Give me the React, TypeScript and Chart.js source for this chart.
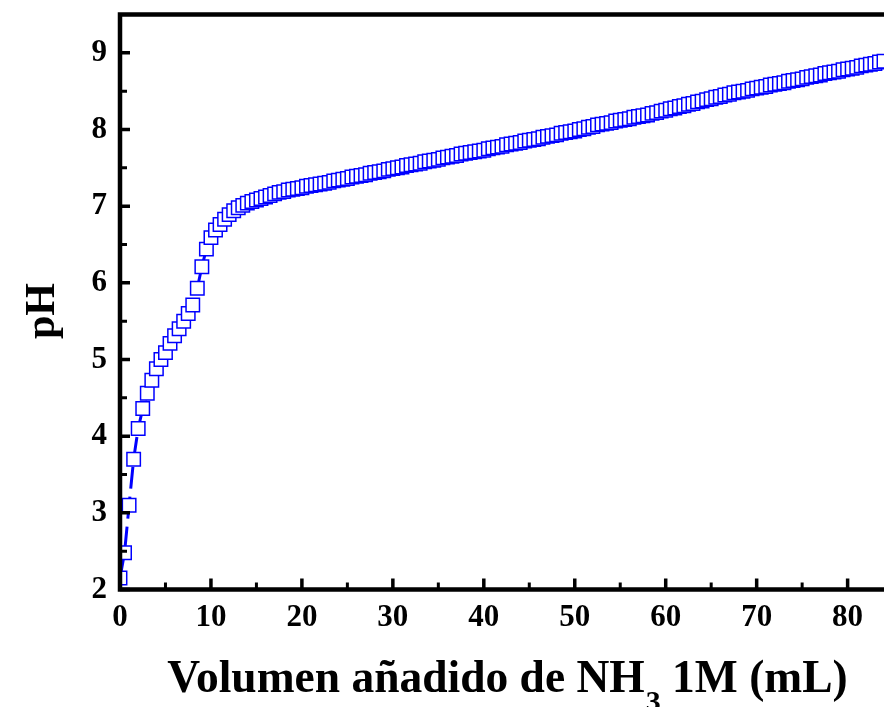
import React, { useEffect, useRef } from 'react';
import { Chart, registerables } from 'chart.js';

Chart.register(...registerables);

// Volume of 1M NH3 added (mL)
const volumeML = [
  0, 0.5, 1, 1.5, 2, 2.5, 3, 3.5, 4, 4.5,
  5, 5.5, 6, 6.5, 7, 7.5, 8, 8.5, 9, 9.5,
  10, 10.5, 11, 11.5, 12, 12.5, 13, 13.5, 14, 14.5,
  15, 15.5, 16, 16.5, 17, 17.5, 18, 18.5, 19, 19.5,
  20, 20.5, 21, 21.5, 22, 22.5, 23, 23.5, 24, 24.5,
  25, 25.5, 26, 26.5, 27, 27.5, 28, 28.5, 29, 29.5,
  30, 30.5, 31, 31.5, 32, 32.5, 33, 33.5, 34, 34.5,
  35, 35.5, 36, 36.5, 37, 37.5, 38, 38.5, 39, 39.5,
  40, 40.5, 41, 41.5, 42, 42.5, 43, 43.5, 44, 44.5,
  45, 45.5, 46, 46.5, 47, 47.5, 48, 48.5, 49, 49.5,
  50, 50.5, 51, 51.5, 52, 52.5, 53, 53.5, 54, 54.5,
  55, 55.5, 56, 56.5, 57, 57.5, 58, 58.5, 59, 59.5,
  60, 60.5, 61, 61.5, 62, 62.5, 63, 63.5, 64, 64.5,
  65, 65.5, 66, 66.5, 67, 67.5, 68, 68.5, 69, 69.5,
  70, 70.5, 71, 71.5, 72, 72.5, 73, 73.5, 74, 74.5,
  75, 75.5, 76, 76.5, 77, 77.5, 78, 78.5, 79, 79.5,
  80, 80.5, 81, 81.5, 82, 82.5, 83, 83.5, 84,
];

// Measured pH
const pHValues = [
  2.15, 2.48, 3.10, 3.70, 4.10, 4.36, 4.56, 4.73, 4.88, 5.00,
  5.09, 5.21, 5.31, 5.40, 5.50, 5.60, 5.71, 5.93, 6.21, 6.44,
  6.59, 6.69, 6.76, 6.83, 6.89, 6.94, 6.98, 7.01, 7.04, 7.06,
  7.08, 7.10, 7.12, 7.14, 7.16, 7.18, 7.19, 7.21, 7.22, 7.23,
  7.24, 7.26, 7.27, 7.28, 7.29, 7.30, 7.31, 7.33, 7.34, 7.35,
  7.36, 7.38, 7.39, 7.40, 7.41, 7.43, 7.44, 7.45, 7.46, 7.48,
  7.49, 7.50, 7.51, 7.53, 7.54, 7.55, 7.56, 7.58, 7.59, 7.60,
  7.61, 7.63, 7.64, 7.65, 7.66, 7.68, 7.69, 7.70, 7.71, 7.72,
  7.73, 7.75, 7.76, 7.77, 7.78, 7.80, 7.81, 7.82, 7.83, 7.85,
  7.86, 7.87, 7.88, 7.90, 7.91, 7.92, 7.93, 7.95, 7.96, 7.97,
  7.98, 8.00, 8.01, 8.03, 8.04, 8.06, 8.07, 8.08, 8.09, 8.11,
  8.12, 8.13, 8.14, 8.16, 8.17, 8.18, 8.19, 8.21, 8.22, 8.24,
  8.25, 8.27, 8.28, 8.30, 8.31, 8.33, 8.34, 8.36, 8.37, 8.39,
  8.40, 8.42, 8.43, 8.45, 8.46, 8.48, 8.49, 8.50, 8.51, 8.53,
  8.54, 8.55, 8.56, 8.58, 8.59, 8.60, 8.61, 8.63, 8.64, 8.65,
  8.66, 8.68, 8.69, 8.70, 8.71, 8.73, 8.74, 8.75, 8.76, 8.78,
  8.79, 8.80, 8.81, 8.83, 8.84, 8.85, 8.86, 8.88, 8.89,
];

const xTickValues = [0, 10, 20, 30, 40, 50, 60, 70, 80];
const xMinorTickValues = [5, 15, 25, 35, 45, 55, 65, 75];
const yTickValues = [2, 3, 4, 5, 6, 7, 8, 9];
const yMinorTickValues = [2.5, 3.5, 4.5, 5.5, 6.5, 7.5, 8.5];

const xAxisMin = 0;
const xAxisMax = 84;
const yAxisMin = 2;
const yAxisMax = 9.5;

const xTitleMain = 'Volumen añadido de NH';
const xTitleSub = '3';
const xTitleTail = ' 1M (mL)';
const yTitle = 'pH';

const SERIF = "'Liberation Serif', 'Times New Roman', serif";

const zeroPadding = (scale: any) => {
  scale.paddingTop = 0;
  scale.paddingBottom = 0;
  scale.paddingLeft = 0;
  scale.paddingRight = 0;
};

const axesPlugin = {
  id: 'originStyleAxes',
  afterDraw(chart: any) {
    const { ctx, chartArea: a, scales } = chart;
    const xs = scales.x;
    const ys = scales.y;
    ctx.save();
    ctx.strokeStyle = '#000';
    ctx.fillStyle = '#000';
    ctx.lineCap = 'butt';

    // major ticks (inside)
    ctx.lineWidth = 3.5;
    ctx.beginPath();
    yTickValues.forEach((v) => {
      const p = ys.getPixelForValue(v);
      ctx.moveTo(a.left, p);
      ctx.lineTo(a.left + 10, p);
    });
    xTickValues.forEach((v) => {
      const p = xs.getPixelForValue(v);
      ctx.moveTo(p, a.bottom);
      ctx.lineTo(p, a.bottom - 11);
    });
    ctx.stroke();

    // minor ticks (inside)
    ctx.lineWidth = 3;
    ctx.beginPath();
    yMinorTickValues.forEach((v) => {
      const p = ys.getPixelForValue(v);
      ctx.moveTo(a.left, p);
      ctx.lineTo(a.left + 7, p);
    });
    xMinorTickValues.forEach((v) => {
      const p = xs.getPixelForValue(v);
      ctx.moveTo(p, a.bottom);
      ctx.lineTo(p, a.bottom - 7);
    });
    ctx.stroke();

    // axis frame (top, left, bottom)
    ctx.lineWidth = 4.5;
    ctx.lineJoin = 'miter';
    ctx.beginPath();
    ctx.moveTo(a.right + 5, a.top);
    ctx.lineTo(a.left, a.top);
    ctx.lineTo(a.left, a.bottom);
    ctx.lineTo(a.right + 5, a.bottom);
    ctx.stroke();

    // y title
    ctx.save();
    ctx.font = `bold 42px ${SERIF}`;
    ctx.textAlign = 'center';
    ctx.textBaseline = 'alphabetic';
    ctx.translate(a.left - 66, (a.top + a.bottom) / 2 + 9);
    ctx.rotate(-Math.PI / 2);
    ctx.fillText(yTitle, 0, 0);
    ctx.restore();

    // x title with subscript
    const mainFont = `bold 45.5px ${SERIF}`;
    const subFont = `bold 30px ${SERIF}`;
    ctx.textAlign = 'left';
    ctx.textBaseline = 'alphabetic';
    ctx.font = mainFont;
    const w1 = ctx.measureText(xTitleMain).width;
    const w3 = ctx.measureText(xTitleTail).width;
    ctx.font = subFont;
    const w2 = ctx.measureText(xTitleSub).width;
    const total = w1 + w2 + w3;
    const cx = (a.left + a.right) / 2 + 5;
    const base = a.bottom + 102.5;
    let x = cx - total / 2;
    ctx.font = mainFont;
    ctx.fillText(xTitleMain, x, base);
    x += w1 + 1;
    ctx.font = subFont;
    ctx.fillText(xTitleSub, x, base + 19);
    x += w2;
    ctx.font = mainFont;
    ctx.fillText(xTitleTail, x, base);

    ctx.restore();
  },
};

export default function App() {
  const canvasRef = useRef<HTMLCanvasElement | null>(null);

  useEffect(() => {
    document.body.style.margin = '0';
    const canvas = canvasRef.current;
    if (!canvas) return;

    const chart = new Chart(canvas, {
      type: 'line',
      data: {
        datasets: [
          {
            label: 'pH',
            data: volumeML.map((v, i) => ({ x: v, y: pHValues[i] })),
            borderColor: '#0000FF',
            borderWidth: 3,
            borderDash: [22, 8],
            tension: 0,
            fill: false,
            pointStyle: 'rect',
            pointRadius: 9.5,
            pointBorderWidth: 1.5,
            pointBackgroundColor: '#FFFFFF',
            pointBorderColor: '#0000FF',
            clip: 0,
          } as any,
        ],
      },
      options: {
        animation: false,
        responsive: false,
        devicePixelRatio: 1,
        layout: { autoPadding: false, padding: { top: 14.5, left: 0, right: 0, bottom: 0 } },
        plugins: {
          legend: { display: false },
          tooltip: { enabled: false },
          title: { display: false },
        },
        scales: {
          x: {
            type: 'linear',
            min: xAxisMin,
            max: xAxisMax,
            grid: { display: false, drawTicks: false },
            border: { display: false },
            afterFit: (scale: any) => {
              scale.height = 117.5;
              zeroPadding(scale);
            },
            afterBuildTicks: (scale: any) => {
              scale.ticks = xTickValues.map((v) => ({ value: v }));
            },
            ticks: {
              autoSkip: false,
              maxRotation: 0,
              minRotation: 0,
              padding: 10,
              color: '#000',
              font: { family: SERIF, size: 31, weight: 'bold' },
            },
          },
          y: {
            type: 'linear',
            min: yAxisMin,
            max: yAxisMax,
            grid: { display: false, drawTicks: false },
            border: { display: false },
            afterFit: (scale: any) => {
              scale.width = 120;
              zeroPadding(scale);
            },
            afterBuildTicks: (scale: any) => {
              scale.ticks = yTickValues.map((v) => ({ value: v }));
            },
            ticks: {
              autoSkip: false,
              padding: 13,
              color: '#000',
              font: { family: SERIF, size: 31, weight: 'bold' },
            },
          },
        },
      } as any,
      plugins: [axesPlugin],
    });

    return () => {
      chart.destroy();
    };
  }, []);

  return (
    <canvas
      ref={canvasRef}
      width={884}
      height={707}
      style={{ display: 'block', width: '884px', height: '707px' }}
    />
  );
}
